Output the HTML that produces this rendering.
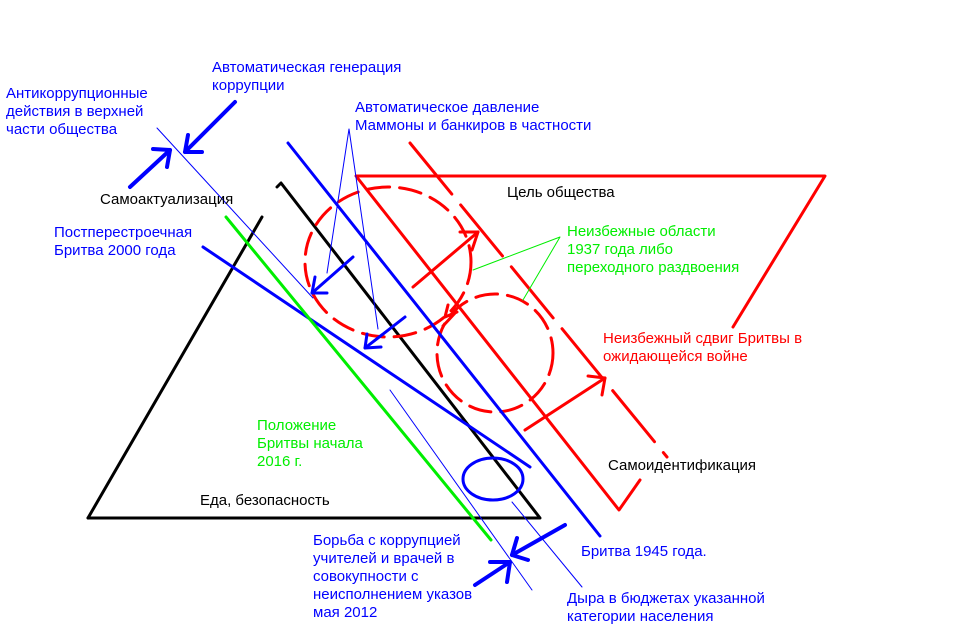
<!DOCTYPE html>
<html><head><meta charset="utf-8"><style>
html,body{margin:0;padding:0;background:#fff;width:956px;height:640px;overflow:hidden}
text{font-family:"Liberation Sans",Arial,sans-serif;font-size:15px}
</style></head><body>
<svg width="956" height="640" viewBox="0 0 956 640" xmlns="http://www.w3.org/2000/svg">
<g fill="none" stroke-linecap="round" stroke-linejoin="round">
<!-- black triangle -->
<polyline points="88,518 262,217" stroke="#000" stroke-width="3"/>
<polyline points="88,518 540,518 281,183 277,187" stroke="#000" stroke-width="3"/>
<!-- red triangle -->
<polyline points="733,327 825,176 356,176 619,510 640,480" stroke="#f00" stroke-width="3"/>
<!-- red dashed long line -->
<line x1="410" y1="143" x2="667" y2="457" stroke="#f00" stroke-width="3" stroke-dasharray="66,14"/>
<!-- red dashed circles -->
<ellipse cx="388" cy="262" rx="83" ry="75" stroke="#f00" stroke-width="3" stroke-dasharray="22,10"/>
<ellipse cx="495" cy="353" rx="58" ry="59" stroke="#f00" stroke-width="3" stroke-dasharray="22,10"/>
<!-- red arrows -->
<polyline points="413,287 478,232" stroke="#f00" stroke-width="3"/>
<polyline points="460,232 478,232 472,250" stroke="#f00" stroke-width="3"/>
<polyline points="525,430 605,378" stroke="#f00" stroke-width="3"/>
<polyline points="588,376 605,378 602,395" stroke="#f00" stroke-width="3"/>
<polyline points="457,312 445,317 448,305" stroke="#f00" stroke-width="3"/>
<polyline points="456,312 443,326" stroke="#f00" stroke-width="3"/>
<!-- blue lines -->
<line x1="288" y1="143" x2="600" y2="536" stroke="#00f" stroke-width="3"/>
<line x1="203" y1="247" x2="530" y2="467" stroke="#00f" stroke-width="3"/>
<ellipse cx="493" cy="479" rx="30" ry="21" stroke="#00f" stroke-width="3"/>
<!-- green line -->
<line x1="226" y1="217" x2="491" y2="540" stroke="#0e0" stroke-width="3"/>
<!-- thin blue lines -->
<line x1="157" y1="128" x2="313" y2="298" stroke="#00f" stroke-width="1"/>
<line x1="390" y1="390" x2="532" y2="590" stroke="#00f" stroke-width="1"/>
<line x1="512" y1="502" x2="582" y2="587" stroke="#00f" stroke-width="1"/>
<polyline points="327,273 349,129 378,329" stroke="#00f" stroke-width="1"/>
<!-- green thin -->
<polyline points="473,270 560,237 523,300" stroke="#0e0" stroke-width="1"/>
<!-- blue arrows -->
<line x1="235" y1="102" x2="185" y2="152" stroke="#00f" stroke-width="4"/>
<polyline points="188,135 185,152 202,152" stroke="#00f" stroke-width="4"/>
<line x1="130" y1="187" x2="170" y2="150" stroke="#00f" stroke-width="4"/>
<polyline points="153,149 170,150 167,167" stroke="#00f" stroke-width="4"/>
<line x1="353" y1="257" x2="312" y2="293" stroke="#00f" stroke-width="3"/>
<polyline points="315,277 312,293 327,293" stroke="#00f" stroke-width="3"/>
<line x1="405" y1="317" x2="365" y2="348" stroke="#00f" stroke-width="3"/>
<polyline points="367,334 365,348 381,347" stroke="#00f" stroke-width="3"/>
<line x1="565" y1="525" x2="512" y2="555" stroke="#00f" stroke-width="4"/>
<polyline points="517,538 512,555 528,560" stroke="#00f" stroke-width="4"/>
<line x1="475" y1="585" x2="510" y2="562" stroke="#00f" stroke-width="4"/>
<polyline points="490,562 510,562 507,582" stroke="#00f" stroke-width="4"/>
</g>
<g fill="#00f">
<text x="6" y="98">Антикоррупционные</text>
<text x="6" y="116">действия в верхней</text>
<text x="6" y="134">части общества</text>
<text x="212" y="72">Автоматическая генерация</text>
<text x="212" y="90">коррупции</text>
<text x="355" y="112">Автоматическое давление</text>
<text x="355" y="130">Маммоны и банкиров в частности</text>
<text x="54" y="237">Постперестроечная</text>
<text x="54" y="255">Бритва 2000 года</text>
<text x="313" y="545">Борьба с коррупцией</text>
<text x="313" y="563">учителей и врачей в</text>
<text x="313" y="581">совокупности с</text>
<text x="313" y="599">неисполнением указов</text>
<text x="313" y="617">мая 2012</text>
<text x="581" y="556">Бритва 1945 года.</text>
<text x="567" y="603">Дыра в бюджетах указанной</text>
<text x="567" y="621">категории населения</text>
</g>
<g fill="#000">
<text x="100" y="204">Самоактуализация</text>
<text x="507" y="197">Цель общества</text>
<text x="608" y="470">Самоидентификация</text>
<text x="200" y="505">Еда, безопасность</text>
</g>
<g fill="#0e0">
<text x="567" y="236">Неизбежные области</text>
<text x="567" y="254">1937 года либо</text>
<text x="567" y="272">переходного раздвоения</text>
<text x="257" y="430">Положение</text>
<text x="257" y="448">Бритвы начала</text>
<text x="257" y="466">2016 г.</text>
</g>
<g fill="#f00">
<text x="603" y="343">Неизбежный сдвиг Бритвы в</text>
<text x="603" y="361">ожидающейся войне</text>
</g>
</svg>
</body></html>
